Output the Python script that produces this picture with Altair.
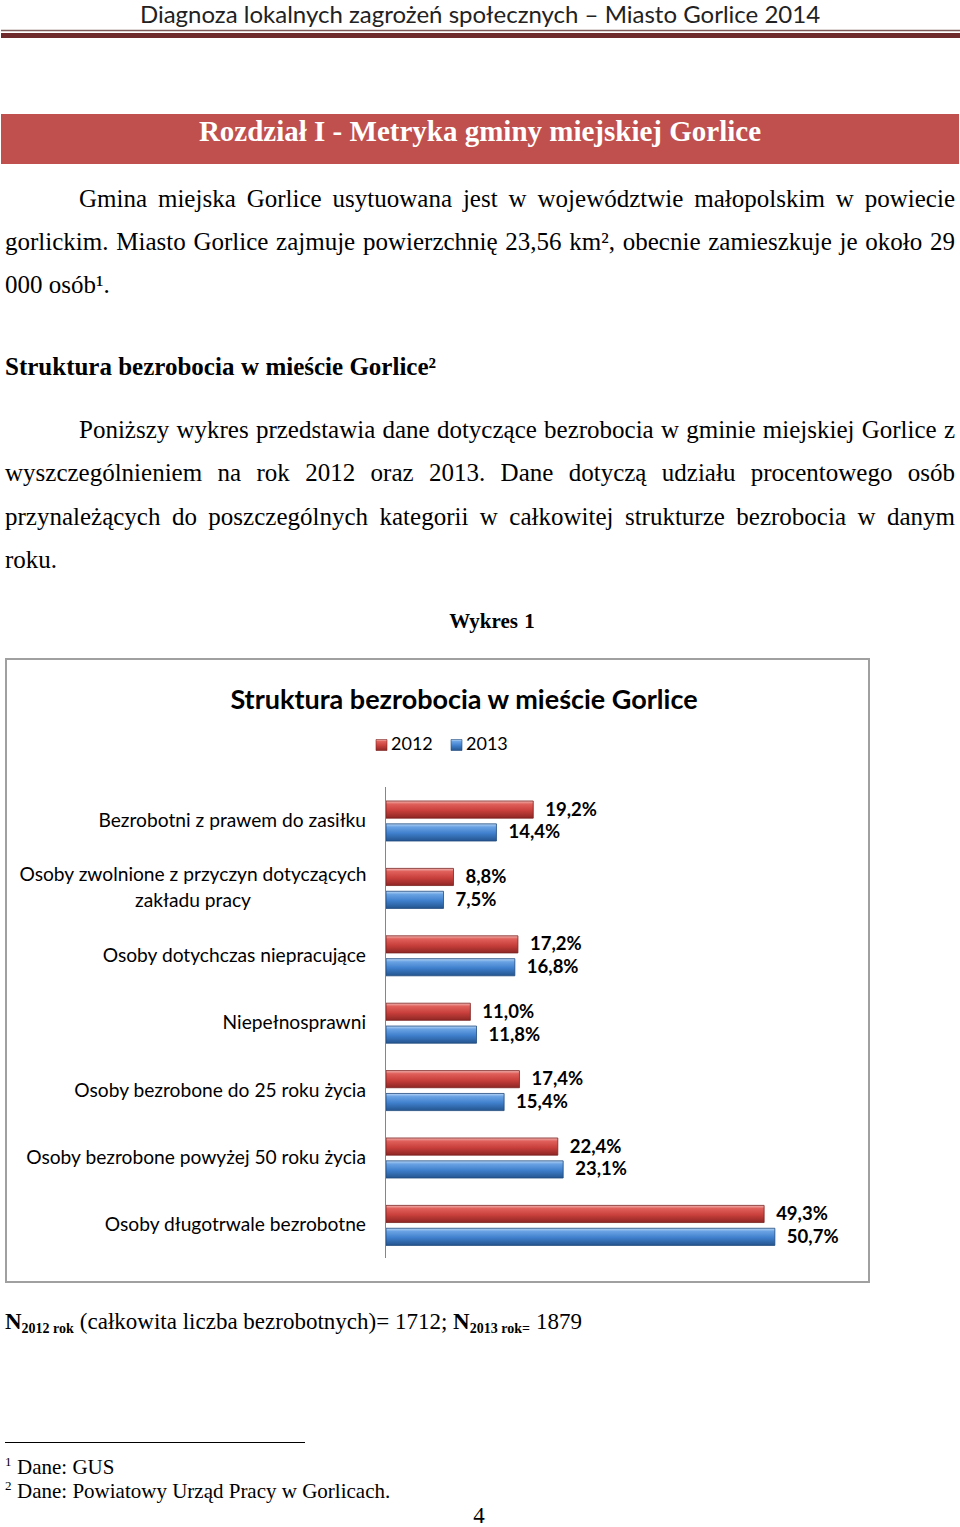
import altair as alt
import pandas as pd

# ---------------- data ----------------
header_title = "Diagnoza lokalnych zagrożeń społecznych – Miasto Gorlice 2014"
banner_title = "Rozdział I - Metryka gminy miejskiej Gorlice"
para_lines = [
    "Gmina miejska Gorlice usytuowana jest w województwie małopolskim w powiecie",
    "gorlickim. Miasto Gorlice zajmuje powierzchnię 23,56 km², obecnie zamieszkuje je około 29",
    "000 osób¹.",
    "Poniższy wykres przedstawia dane dotyczące bezrobocia w gminie miejskiej Gorlice z",
    "wyszczególnieniem na rok 2012 oraz 2013. Dane dotyczą udziału procentowego osób",
    "przynależących do poszczególnych kategorii w całkowitej strukturze bezrobocia w danym",
    "roku.",
]
section_heading = "Struktura bezrobocia w mieście Gorlice²"
figure_caption = "Wykres 1"
chart_title = "Struktura bezrobocia w mieście Gorlice"
years = ["2012", "2013"]
categories = [
    "Bezrobotni z prawem do zasiłku",
    "Osoby zwolnione z przyczyn dotyczących\nzakładu pracy",
    "Osoby dotychczas niepracujące",
    "Niepełnosprawni",
    "Osoby bezrobone do 25 roku życia",
    "Osoby bezrobone powyżej 50 roku życia",
    "Osoby długotrwale bezrobotne",
]
values_2012 = [19.2, 8.8, 17.2, 11.0, 17.4, 22.4, 49.3]
values_2013 = [14.4, 7.5, 16.8, 11.8, 15.4, 23.1, 50.7]
n_parts = ["N", "2012 rok", "(całkowita liczba bezrobotnych)= 1712;", "N", "2013 rok=", "1879"]
footnotes = ["Dane: GUS", "Dane: Powiatowy Urząd Pracy w Gorlicach."]
page_number = "4"

# ---------------- layout ----------------
W, H = 960, 1527
SERIF = "Liberation Serif"
SANS = "Lato"
BODY = 25
# (x start, x end, baseline, justified)
para_layout = [
    (79, 955, 207, True),
    (5, 955, 250, True),
    (5, None, 293, False),
    (79, 955, 438, True),
    (5, 955, 481, True),
    (5, 955, 525, True),
    (5, None, 568, False),
]

TR = {' ': 250, '(': 333, ')': 333, ',': 250, '-': 333, '.': 250, ':': 278, ';': 278,
      '=': 564, '¹': 300, '²': 300,
      'D': 722, 'G': 722, 'M': 889, 'N': 722, 'P': 556, 'S': 556, 'U': 722,
      'a': 444, 'b': 500, 'c': 444, 'd': 500, 'e': 444, 'f': 333, 'g': 500, 'h': 500,
      'i': 278, 'j': 278, 'k': 500, 'l': 278, 'm': 778, 'n': 500, 'o': 500, 'p': 500,
      'r': 333, 's': 389, 't': 278, 'u': 500, 'w': 722, 'y': 500, 'z': 444,
      'ą': 444, 'ę': 444, 'ł': 278, 'ó': 500, 'ś': 389, 'ż': 444, 'ć': 444, 'ń': 500}
TB = {' ': 250, '-': 333, '=': 570, '²': 300,
      'G': 778, 'I': 389, 'M': 944, 'N': 722, 'R': 722, 'S': 556, 'W': 1000,
      'a': 500, 'b': 556, 'c': 444, 'd': 556, 'e': 444, 'g': 500, 'i': 278, 'j': 333,
      'k': 556, 'l': 278, 'm': 833, 'n': 556, 'o': 500, 'r': 444, 's': 389, 't': 333,
      'u': 556, 'w': 722, 'y': 500, 'z': 444, 'ł': 278, 'ś': 389}


def tw(s, size, table):
    return sum(table.get(ch, 500) for ch in s) * size / 1000.0


def place(text, x0, x1, y, size, table, justify, color="#000000"):
    words = text.split(" ")
    widths = [tw(w, size, table) for w in words]
    if justify and len(words) > 1:
        gap = (x1 - x0 - sum(widths)) / (len(words) - 1)
    else:
        gap = table[' '] * size / 1000.0
    rows, x = [], x0
    for w, wd in zip(words, widths):
        rows.append({"t": w, "x": x, "y": y, "size": size, "col": color})
        x += wd + gap
    return rows


reg_rows, bold_rows = [], []
for line, (x0, x1, y, just) in zip(para_lines, para_layout):
    reg_rows += place(line, x0, x1, y, BODY, TR, just)
bold_rows += place(section_heading, 5, None, 375, BODY, TB, False)
cw = tw(banner_title, 29, TB)
bold_rows += place(banner_title, 480 - cw / 2, None, 141, 29, TB, False, "#ffffff")
cw = tw(figure_caption, 21, TB)
bold_rows += place(figure_caption, 492 - cw / 2, None, 628, 21, TB, False)

# N line
x = 5
NS, SUB = 23, 14
bold_rows.append({"t": n_parts[0], "x": x, "y": 1329, "size": NS, "col": "#000"})
x += tw(n_parts[0], NS, TB)
bold_rows.append({"t": n_parts[1], "x": x, "y": 1333, "size": SUB, "col": "#000"})
x += tw(n_parts[1], SUB, TB) + tw(" ", NS, TR)
reg_rows += place(n_parts[2], x, None, 1329, NS, TR, False)
x += tw(n_parts[2] + " ", NS, TR)
bold_rows.append({"t": n_parts[3], "x": x, "y": 1329, "size": NS, "col": "#000"})
x += tw(n_parts[3], NS, TB)
bold_rows.append({"t": n_parts[4], "x": x, "y": 1333, "size": SUB, "col": "#000"})
x += tw(n_parts[4], SUB, TB) + tw(" ", NS, TR)
reg_rows.append({"t": n_parts[5], "x": x, "y": 1329, "size": NS, "col": "#000"})

# footnotes
for i, (fn, y) in enumerate(zip(footnotes, [1474, 1498])):
    reg_rows.append({"t": str(i + 1), "x": 5, "y": y - 8, "size": 13, "col": "#000"})
    reg_rows += place(fn, 17, None, y, 21, TR, False)
reg_rows.append({"t": page_number, "x": 479 - tw(page_number, 23, TR) / 2, "y": 1523,
                 "size": 23, "col": "#000"})

reg_df = pd.DataFrame(reg_rows)
bold_df = pd.DataFrame(bold_rows)
one = pd.DataFrame({"a": [0]})


def doc_text(df, weight):
    return alt.Chart(df).mark_text(font=SERIF, fontWeight=weight, align="left",
                                   baseline="alphabetic").encode(
        x=alt.X("x:Q", scale=None, axis=None),
        y=alt.Y("y:Q", scale=None, axis=None),
        size=alt.Size("size:Q", scale=None, legend=None),
        color=alt.Color("col:N", scale=None, legend=None),
        text="t:N",
    )


# ---------------- page furniture ----------------
rule_thin = alt.Chart(one).mark_rule(color="#7d5a5a", strokeWidth=1.5).encode(
    x=alt.value(1), x2=alt.value(960), y=alt.value(30.5))
rule_thick = alt.Chart(one).mark_rule(color="#6e2a2a", strokeWidth=5).encode(
    x=alt.value(1), x2=alt.value(960), y=alt.value(35.5))
header = alt.Chart(one).mark_text(font=SANS, fontSize=24, color="#222222", align="center",
                                  baseline="alphabetic", text=header_title).encode(
    x=alt.value(480), y=alt.value(22.5))
banner = alt.Chart(one).mark_rect(color="#c0504d").encode(
    x=alt.value(1), x2=alt.value(959), y=alt.value(114), y2=alt.value(164))
frame = alt.Chart(one).mark_rect(fill="#ffffff", stroke="#a0a0a0", strokeWidth=2).encode(
    x=alt.value(6), x2=alt.value(869), y=alt.value(659), y2=alt.value(1282))
foot_rule = alt.Chart(one).mark_rule(color="#000000", strokeWidth=1).encode(
    x=alt.value(5), x2=alt.value(305), y=alt.value(1442.5))

# ---------------- chart ----------------
rows = []
for c, a, b in zip(categories, values_2012, values_2013):
    rows.append({"category": c, "year": years[0], "value": a})
    rows.append({"category": c, "year": years[1], "value": b})
df = pd.DataFrame(rows)
df["label"] = df["value"].map(lambda v: f"{v:.1f}".replace(".", ",") + "%")

STEP = 67.4
PI = 0.4065
Y0 = 787.3
OFF_PAD = 0.25
BANDW = STEP * (1 - PI)
HALF_OFF = BANDW / (2 - OFF_PAD) / 2
y_enc = alt.Y("category:N", sort=categories, axis=None,
              scale=alt.Scale(domain=categories, range=[Y0, Y0 + 7 * STEP],
                              paddingInner=PI, paddingOuter=PI / 2))
yoff_enc = alt.YOffset("year:N", scale=alt.Scale(domain=years, paddingInner=OFF_PAD,
                                                 paddingOuter=0))
x_enc = alt.X("value:Q", axis=None,
              scale=alt.Scale(domain=[0, 60], range=[386, 386 + 60 * 7.67]))


def grad(stops):
    return alt.Gradient(gradient="linear", x1=0, x2=0, y1=0, y2=1,
                        stops=[alt.GradientStop(color=c, offset=o) for o, c in stops])


red_grad = grad([(0, "#f2b8b5"), (0.18, "#e0605b"), (0.55, "#c9403c"), (1, "#8e2624")])
blue_grad = grad([(0, "#b9d6f5"), (0.18, "#6aa3e4"), (0.55, "#3f7fcc"), (1, "#24558f")])

bars_2012 = alt.Chart(df).transform_filter(alt.datum.year == years[0]).mark_bar(
    fill=red_grad, stroke="#7a2220", strokeWidth=0.8).encode(
    x=x_enc, x2=alt.datum(0), y=y_enc, yOffset=yoff_enc)
bars_2013 = alt.Chart(df).transform_filter(alt.datum.year == years[1]).mark_bar(
    fill=blue_grad, stroke="#1f4a7e", strokeWidth=0.8).encode(
    x=x_enc, x2=alt.datum(0), y=y_enc, yOffset=yoff_enc)


def value_labels(year, dy):
    return alt.Chart(df).transform_filter(alt.datum.year == year).mark_text(
        font=SANS, fontWeight="bold", fontSize=18.5, align="left", baseline="middle",
        dx=12, dy=dy, color="#000000").encode(x=x_enc, y=y_enc, text="label:N")


labels_2012 = value_labels(years[0], -HALF_OFF)
labels_2013 = value_labels(years[1], HALF_OFF)

cat_df = pd.DataFrame({"category": categories,
                       "multi": ["\n" in c for c in categories]})
cat_single = alt.Chart(cat_df).transform_filter(alt.datum.multi == False).mark_text(
    font=SANS, fontSize=19.2, align="right", baseline="middle", color="#000000").encode(
    x=alt.value(366), y=y_enc, text="category:N")
cat_multi = alt.Chart(cat_df).transform_filter(alt.datum.multi == True).mark_text(
    font=SANS, fontSize=19.2, align="center", baseline="middle", lineBreak="\n",
    lineHeight=26, dy=-13, color="#000000").encode(
    x=alt.value(193), y=y_enc, text="category:N")
axis_line = alt.Chart(one).mark_rule(color="#868686", strokeWidth=1).encode(
    x=alt.value(385.5), y=alt.value(787), y2=alt.value(1258))

title = alt.Chart(one).mark_text(font=SANS, fontWeight="bold", fontSize=27,
                                 align="center", baseline="alphabetic", text=chart_title,
                                 color="#000000").encode(x=alt.value(464), y=alt.value(709))
leg_red = alt.Chart(one).mark_rect(fill=red_grad, stroke="#7a2220", strokeWidth=0.6).encode(
    x=alt.value(376), x2=alt.value(387), y=alt.value(739.5), y2=alt.value(750.5))
leg_blue = alt.Chart(one).mark_rect(fill=blue_grad, stroke="#1f4a7e", strokeWidth=0.6).encode(
    x=alt.value(451), x2=alt.value(462), y=alt.value(739.5), y2=alt.value(750.5))
leg_text = alt.Chart(pd.DataFrame({"year": years, "x": [391, 466]})).mark_text(
    font=SANS, fontSize=18, align="left", baseline="middle", color="#000000").encode(
    x=alt.X("x:Q", scale=None, axis=None), y=alt.value(745), text="year:N")

chart = alt.layer(
    banner, rule_thin, rule_thick, header, frame, foot_rule,
    bars_2012, bars_2013, axis_line, labels_2012, labels_2013, cat_single, cat_multi,
    title, leg_red, leg_blue, leg_text,
    doc_text(reg_df, "normal"), doc_text(bold_df, "bold"),
).resolve_scale(x="independent", y="independent", yOffset="independent").properties(
    width=W, height=H, padding=0, autosize=alt.AutoSizeParams(type="none"),
    background="#ffffff",
).configure_view(stroke=None)

chart.save("out.html", embed_options={"renderer": "svg", "actions": False})
